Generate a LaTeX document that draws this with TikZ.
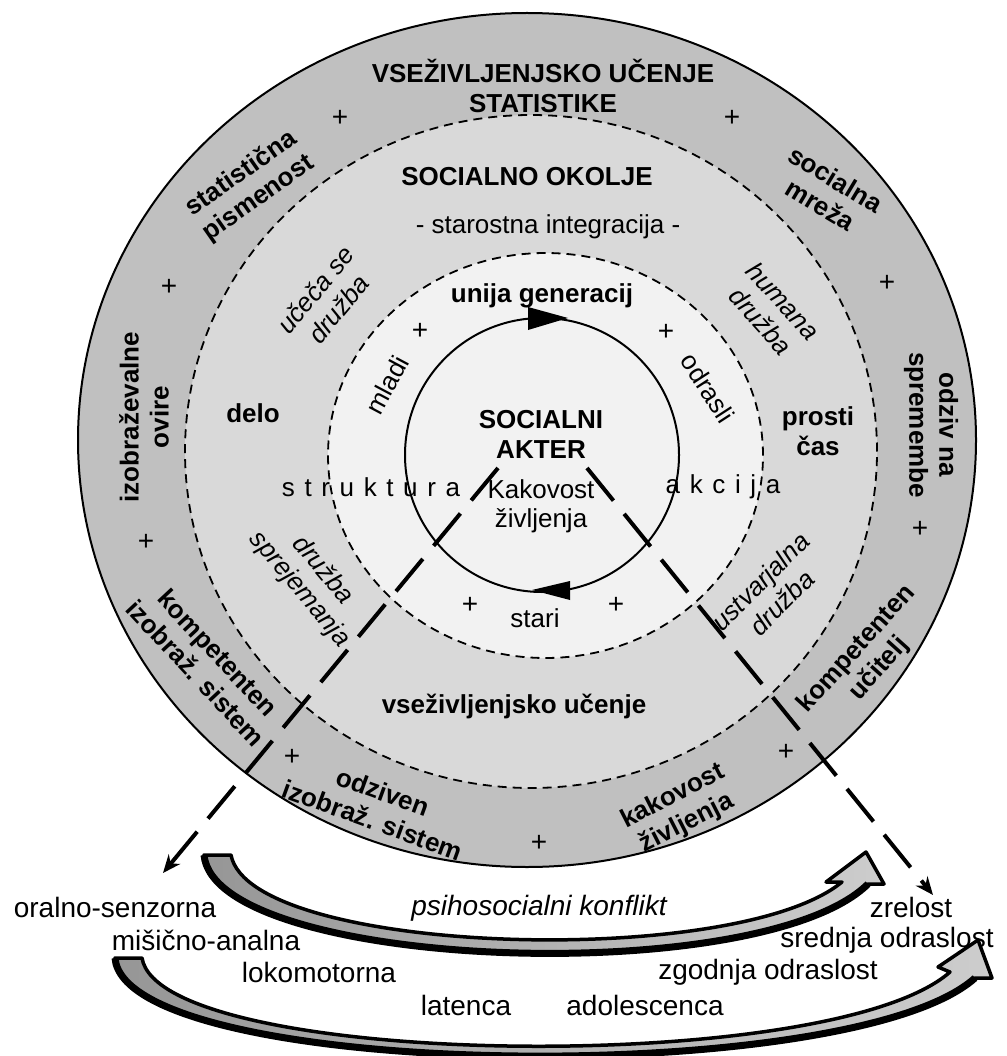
\documentclass[tikz,border=0pt]{standalone}
\usepackage{fontspec}
\setmainfont{Liberation Sans}
\usetikzlibrary{arrows.meta}
\definecolor{ringA}{RGB}{192,192,192}
\definecolor{ringB}{RGB}{217,217,217}
\definecolor{ringC}{RGB}{242,242,242}
\definecolor{arrdark}{RGB}{150,150,150}
\definecolor{arrlight}{RGB}{205,205,205}
\newcommand{\gp}{\hspace{0.37em}}
\begin{document}
\begin{tikzpicture}[x=1pt,y=-1pt,
  lbl/.style={font=\fontsize{26}{29}\selectfont, inner sep=0pt, align=center},
  blbl/.style={font=\bfseries\fontsize{26}{30}\selectfont, inner sep=0pt, align=center},
  ilbl/.style={font=\itshape\fontsize{26}{30}\selectfont, inner sep=0pt, align=center},
  stage/.style={font=\fontsize{28}{30}\selectfont, inner sep=0pt},
  plus/.style={font=\fontsize{28}{30}\selectfont, inner sep=0pt},
  ring/.style={draw=black, line width=1.8pt, dash pattern=on 9pt off 6pt},
  bridge/.style={line width=4pt, dash pattern=on 42pt off 17pt, -{Stealth[length=18pt,width=15pt]}},
  bowarrow/.style={draw=black, line width=3.5pt, line join=round, left color=arrdark, right color=arrlight},
  bowrim/.style={line width=7pt}
]
\useasboundingbox (0,0) rectangle (1006,1056);

% rings
\filldraw[fill=ringA, line width=2pt] (527,440) ellipse [x radius=449pt, y radius=427pt];
\fill[ringB] (531,451.5) ellipse [x radius=346pt, y radius=336.5pt];
\draw[ring] (531,451.5) ellipse [x radius=346pt, y radius=336.5pt];
\fill[ringC] (545.5,455.5) ellipse [x radius=217.5pt, y radius=202.5pt];
\draw[ring] (545.5,455.5) ellipse [x radius=217.5pt, y radius=202.5pt];

% generation cycle
\draw[line width=2pt] (542,455) circle [radius=137pt];
\fill (528,307) -- (568,318) -- (528,330) -- cycle;
\fill (570,581) -- (532,590) -- (570,600) -- cycle;

% outer ring labels
\node[blbl] (title) at (543,86) {VSEŽIVLJENJSKO UČENJE\\STATISTIKE};
\node[blbl, rotate=35] (pism) at (250,186) {statistična\\pismenost};
\node[blbl, rotate=-31] (mreza) at (828,192) {socialna\\mreža};
\node[blbl, rotate=90] (ovire) at (144,417) {izobraževalne\\ovire};
\node[blbl, rotate=-90] (odziv) at (931,425) {odziv na\\spremembe};
\node[blbl, rotate=-47] (kis) at (207,663) {kompetenten\\izobraž. sistem};
\node[blbl, rotate=48] (kuc) at (868,659) {kompetenten\\učitelj};
\node[blbl, rotate=-20] (ois) at (378,806) {odziven\\izobraž. sistem};
\node[blbl, rotate=27] (kz) at (680,810) {kakovost\\življenja};
\foreach \p [count=\i] in {(340,118),(732,118),(169,287),(887,283),(146,542),(920,529),(292,757),(786,752),(539,843)}
  \node[plus] (po\i) at \p {+};

% social environment ring
\node[blbl] (okolje) at (527,177) {SOCIALNO OKOLJE};
\node[lbl] (integ) at (548,227) {- starostna integracija -};
\node[ilbl, rotate=50] (uceca) at (327,299) {učeča se\\družba};
\node[ilbl, rotate=-48] (humana) at (772,311) {humana\\družba};
\node[ilbl, rotate=-50] (sprej) at (311,580) {družba\\sprejemanja};
\node[ilbl, rotate=45] (ustv) at (771,592) {ustvarjalna\\družba};
\node[blbl] (delo) at (253,413) {delo};
\node[blbl] (prosti) at (818,431) {prosti\\čas};
\node[blbl] (vsez) at (514,706) {vseživljenjsko učenje};

% inner ring
\node[blbl] (unija) at (542,296) {unija generacij};
\node[lbl, rotate=62] (mladi) at (387,385) {mladi};
\node[lbl, rotate=-57] (odrasli) at (708,388) {odrasli};
\node[lbl] (stari) at (535,618) {stari};
\node[lbl] (strukt) at (371,487) {s\gp t\gp r\gp u\gp k\gp t\gp u\gp r\gp a};
\node[lbl] (akcija) at (723,487) {a\gp k\gp c\gp i\gp j\gp a};
\foreach \p [count=\i] in {(420,331),(666,332),(470,605),(616,605)}
  \node[plus] (pi\i) at \p {+};

% centre
\node[blbl] (akter) at (541,434) {SOCIALNI\\AKTER};
\node[lbl] (kakov) at (541,506) {Kakovost\\življenja};

% stages
\node[stage] (oral) at (115,907) {oralno-senzorna};
\node[stage] (misic) at (206,940) {mišično-analna};
\node[stage] (loko) at (319,972) {lokomotorna};
\node[stage] (lat) at (466,1005) {latenca};
\node[stage] (adol) at (645,1005) {adolescenca};
\node[stage] (zgod) at (768,972) {zgodnja odraslost};
\node[stage] (sred) at (887,940) {srednja odraslost};
\node[stage] (zrel) at (911,907) {zrelost};
\node[stage, font=\itshape\fontsize{28}{30}\selectfont] (konf) at (539,908) {psihosocialni konflikt};

% dashed links from the actor to the stages
\coordinate (akL) at (498,468);
\coordinate (akR) at (587,468);
\coordinate (endL) at (163,873);
\coordinate (endR) at (933,895);
\draw[bridge] (akL) -- (endL);
\draw[bridge] (akR) -- (endR);

% curved block arrows
\draw[bowarrow] (204,855) -- (231,855)
  .. controls (250,955) and (735,970) .. (842,882)
  -- (826,882) -- (866,852) -- (884,884) -- (868,884)
  .. controls (760,990) and (215,970) .. (204,855) -- cycle;
\draw[bowrim] (868,884) .. controls (760,990) and (215,970) .. (204,855);
\draw[bowarrow] (115,958) -- (142,958)
  .. controls (160,1068) and (830,1078) .. (950,972)
  -- (938,967) -- (978,940) -- (992,978) -- (975,978)
  .. controls (850,1090) and (125,1080) .. (115,958) -- cycle;
\draw[bowrim] (975,978) .. controls (850,1090) and (125,1080) .. (115,958);
\end{tikzpicture}
\end{document}
